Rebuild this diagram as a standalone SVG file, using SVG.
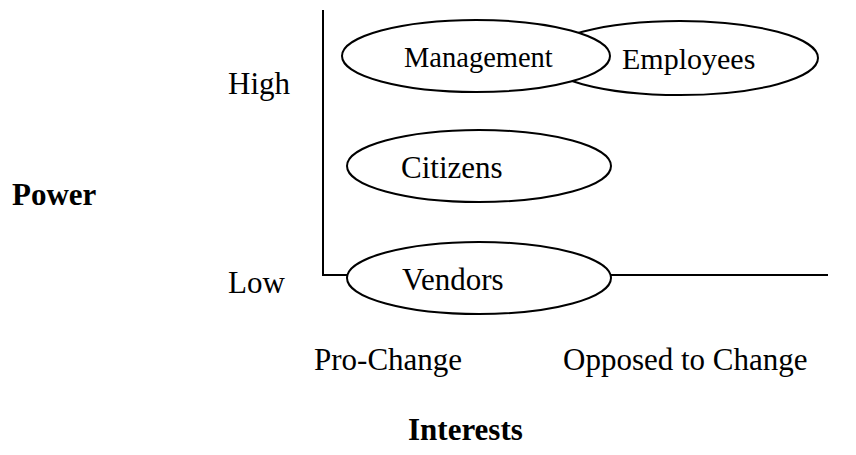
<svg xmlns="http://www.w3.org/2000/svg" width="856" height="455" viewBox="0 0 856 455">
<style>
text{font-family:"Liberation Serif","Times New Roman",serif;fill:#000;font-size:31px}
.b{font-weight:bold}
.node ellipse{fill:#fff;stroke:#000;stroke-width:2}
.axis{fill:none;stroke:#000;stroke-width:2}
</style>
<rect width="856" height="455" fill="#fff"/>
<g id="connectors">
<polyline class="axis" points="323,10 323,275 828,275"/>
</g>
<g id="employees" class="node">
<ellipse cx="680" cy="58" rx="138" ry="37"/>
<text x="622" y="69" style="font-size:30px">Employees</text>
</g>
<g id="management" class="node">
<ellipse cx="476" cy="56" rx="134" ry="36"/>
<text x="404" y="67" style="font-size:28.5px">Management</text>
</g>
<g id="citizens" class="node">
<ellipse cx="479" cy="166" rx="132" ry="36"/>
<text x="401" y="178">Citizens</text>
</g>
<g id="vendors" class="node">
<ellipse cx="479" cy="278" rx="132" ry="36"/>
<text x="402" y="290">Vendors</text>
</g>
<g id="labels">
<text x="228" y="94">High</text>
<text x="228" y="293">Low</text>
<text class="b" x="12" y="205">Power</text>
<text x="314" y="370">Pro-Change</text>
<text x="563" y="370">Opposed to Change</text>
<text class="b" x="408" y="440">Interests</text>
</g>
</svg>
